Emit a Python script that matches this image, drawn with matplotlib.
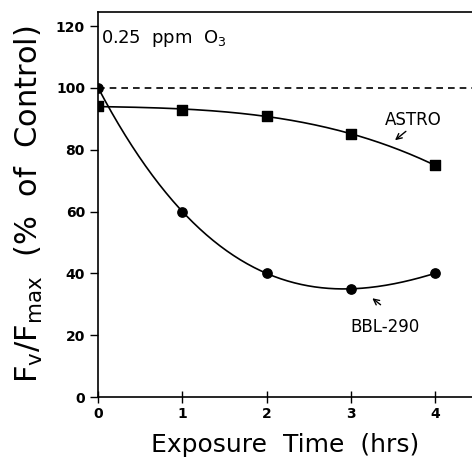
import matplotlib
matplotlib.use("Agg")
import matplotlib.pyplot as plt
import numpy as np

hours = [0, 1, 2, 3, 4]
bbl_290 = [100, 60, 40, 35, 40]
astro = [94, 93, 91, 85, 75]
x_ticks = [0, 1, 2, 3, 4]
y_ticks = [0, 20, 40, 60, 80, 100, 120]

plt.rcParams['font.family'] = ['DejaVu Sans']

fig = plt.figure(figsize=(4.72, 4.66), dpi=100)
ax = fig.add_axes([0.208, 0.148, 0.792, 0.826])

# smooth curves through the points
xs = np.linspace(0, 4, 200)
bbl_fit = np.polyval(np.polyfit(hours, bbl_290, 3), xs)
astro_fit = np.polyval(np.polyfit(hours, astro, 3), xs)

ax.axhline(100, color='black', linestyle=(0, (4, 3)), linewidth=1.2, zorder=1)
ax.plot(xs, bbl_fit, color='black', linewidth=1.2, zorder=2)
ax.plot(xs, astro_fit, color='black', linewidth=1.2, zorder=2)
ax.scatter(hours, bbl_290, marker='o', color='black', s=45, zorder=3)
ax.scatter(hours, astro, marker='s', color='black', s=45, zorder=3)

ax.set_xlim(0, 4.44)
ax.set_ylim(0, 124.5)
ax.set_xticks(x_ticks)
ax.set_yticks(y_ticks)
ax.tick_params(axis='y', direction='out', length=6, width=1, labelsize=10)
ax.tick_params(axis='x', direction='inout', length=8, width=1, labelsize=10)
for lbl in ax.get_xticklabels() + ax.get_yticklabels():
    lbl.set_fontweight('bold')

ax.spines['right'].set_visible(False)
for s in ['left', 'bottom', 'top']:
    ax.spines[s].set_linewidth(1.2)

ax.set_ylabel('F$_\\mathregular{v}$/F$_\\mathregular{max}$  (%  of  Control)', fontsize=22, labelpad=8)
ax.set_xlabel('Exposure  Time  (hrs)', fontsize=18, labelpad=8)

ax.text(0.03, 116, '0.25  ppm  O$_\\mathregular{3}$', fontsize=13, va='center', ha='left')
ax.text(3.4, 89.5, 'ASTRO', fontsize=12, va='center', ha='left')
ax.annotate('', xy=(3.5, 82.5), xytext=(3.68, 86.5),
            arrowprops=dict(arrowstyle='->', color='black', lw=1))
ax.text(3.0, 22.5, 'BBL-290', fontsize=12, va='center', ha='left')
ax.annotate('', xy=(3.23, 32.5), xytext=(3.38, 29.3),
            arrowprops=dict(arrowstyle='->', color='black', lw=1))

fig.savefig('out.png', dpi=100)
